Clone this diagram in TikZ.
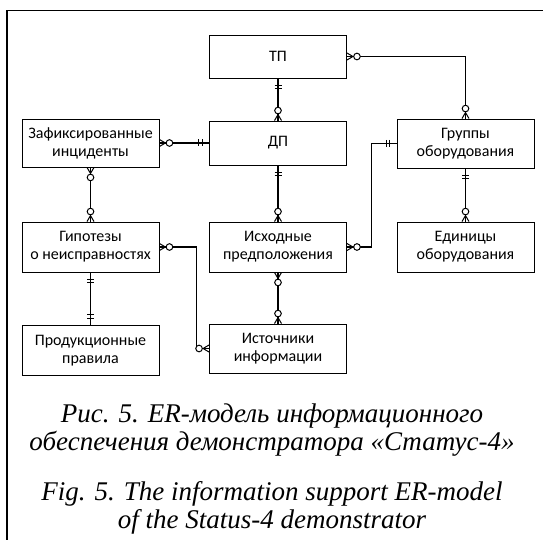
\documentclass[tikz,border=0pt]{standalone}
\usepackage{fontspec}
\setmainfont{Liberation Serif}
\newfontfamily\boxfont{Carlito}
\begin{document}
\begin{tikzpicture}[x=1pt,y=1pt,
  ent/.style={draw, line width=0.9pt, minimum width=137pt, inner sep=0pt, align=center,
    font=\boxfont\fontsize{16}{18}\selectfont},
  conn/.style={line width=1.2pt},
  zm/.pic={\draw[line width=1pt] (0,3.5) -- (6,0) -- (0,-3.5);
           \draw[line width=1pt, fill=white] (10,0) circle (3.3);},
  one/.pic={\draw[line width=1pt] (7,-3.5) -- (7,3.5) (10.5,-3.5) -- (10.5,3.5);},
  captext/.style={font=\itshape\fontsize{27}{28}\selectfont, inner sep=0pt, anchor=base}
]
\useasboundingbox (0,0) rectangle (543,-540);
\draw[line width=1.2pt] (7,-560) -- (7,-10.5) -- (560,-10.5);

\node[ent, minimum height=43pt] (tp) at (278,-56.5) {ТП};
\node[ent, minimum height=44pt] (dp) at (278,-143) {ДП};
\node[ent, minimum height=48pt] (zaf) at (90.5,-143) {Зафиксированные\\инциденты};
\node[ent, minimum height=49pt] (gr) at (465.5,-143.5) {Группы\\оборудования};
\node[ent, minimum height=50pt] (gip) at (90.5,-247) {Гипотезы\\о неисправностях};
\node[ent, minimum height=50pt] (isx) at (278,-247) {Исходные\\предположения};
\node[ent, minimum height=50pt] (ed) at (465.5,-247) {Единицы\\оборудования};
\node[ent, minimum height=50pt] (pr) at (90.5,-350.5) {Продукционные\\правила};
\node[ent, minimum height=49pt] (ist) at (278,-348.5) {Источники\\информации};

% TP - DP
\draw[conn] (tp.south) -- (dp.north);
\pic[rotate=-90] at (tp.south) {one};
\pic[rotate=90] at (dp.north) {zm};
% TP - Gruppy
\draw[conn] (tp.east) -| (gr.north);
\pic at (tp.east) {zm};
\pic[rotate=90] at (gr.north) {zm};
% Zaf - DP
\draw[conn] (zaf.east) -- (dp.west);
\pic at (zaf.east) {zm};
\pic[rotate=180] at (dp.west) {one};
% Zaf - Gip
\draw[conn] (zaf.south) -- (gip.north);
\pic[rotate=-90] at (zaf.south) {zm};
\pic[rotate=90] at (gip.north) {zm};
% DP - Isx
\draw[conn] (dp.south) -- (isx.north);
\pic[rotate=-90] at (dp.south) {one};
\pic[rotate=90] at (isx.north) {zm};
% Gruppy - Isx
\coordinate (k1) at ([xshift=-25pt]gr.west);
\draw[conn] (gr.west) -- (k1) |- (isx.east);
\pic[rotate=180] at (gr.west) {one};
\pic at (isx.east) {zm};
% Gruppy - Ed
\draw[conn] (gr.south) -- (ed.north);
\pic[rotate=-90] at (gr.south) {one};
\pic[rotate=90] at (ed.north) {zm};
% Gip - Pr
\draw[conn] (gip.south) -- (pr.north);
\pic[rotate=-90] at (gip.south) {one};
\pic[rotate=90] at (pr.north) {one};
% Gip - Ist
\coordinate (k2) at ([xshift=37pt]gip.east);
\draw[conn] (gip.east) -- (k2) |- (ist.west);
\pic at (gip.east) {zm};
\pic[rotate=180] at (ist.west) {zm};
% Isx - Ist
\draw[conn] (isx.south) -- (ist.north);
\pic[rotate=-90] at (isx.south) {zm};
\pic[rotate=90] at (ist.north) {zm};

\node[captext] (c1a) at (272,-422) {Рис. 5. ER-модель информационного};
\node[captext] (c1b) at (272,-450) {обеспечения демонстратора «Статус-4»};
\node[captext] (c2a) at (272,-500) {Fig. 5. The information support ER-model};
\node[captext] (c2b) at (272,-528) {of the Status-4 demonstrator};
\end{tikzpicture}
\end{document}
